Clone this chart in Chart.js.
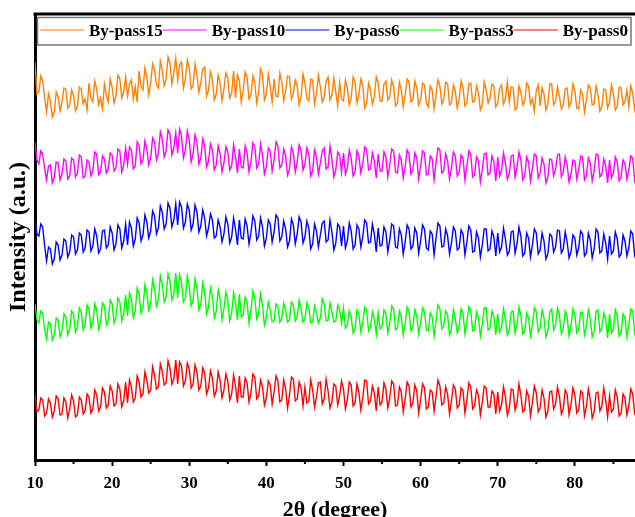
<!DOCTYPE html>
<html>
<head>
<meta charset="UTF-8">
<title>XRD By-pass</title>
<script src="https://cdn.jsdelivr.net/npm/chart.js@4/dist/chart.umd.min.js"></script>
<style>
  html, body { margin: 0; padding: 0; background: #fff; }
</style>
</head>
<body>
<canvas id="xrd" width="635" height="517"></canvas>
<script>
// scan positions, 2theta in degrees
const twoTheta = [
  10,10.25,10.5,10.75,11,11.25,11.5,11.75,12,12.25,12.5,12.75,13,13.25,13.5,13.75,14,14.25,14.5,14.75,
  15,15.25,15.5,15.75,16,16.25,16.5,16.75,17,17.25,17.5,17.75,18,18.25,18.5,18.75,19,19.25,19.5,19.75,
  20,20.25,20.5,20.75,21,21.25,21.5,21.75,22,22.25,22.5,22.75,23,23.25,23.5,23.75,24,24.25,24.5,24.75,
  25,25.25,25.5,25.75,26,26.25,26.5,26.75,27,27.25,27.5,27.75,28,28.25,28.5,28.75,29,29.25,29.5,29.75,
  30,30.25,30.5,30.75,31,31.25,31.5,31.75,32,32.25,32.5,32.75,33,33.25,33.5,33.75,34,34.25,34.5,34.75,
  35,35.25,35.5,35.75,36,36.25,36.5,36.75,37,37.25,37.5,37.75,38,38.25,38.5,38.75,39,39.25,39.5,39.75,
  40,40.25,40.5,40.75,41,41.25,41.5,41.75,42,42.25,42.5,42.75,43,43.25,43.5,43.75,44,44.25,44.5,44.75,
  45,45.25,45.5,45.75,46,46.25,46.5,46.75,47,47.25,47.5,47.75,48,48.25,48.5,48.75,49,49.25,49.5,49.75,
  50,50.25,50.5,50.75,51,51.25,51.5,51.75,52,52.25,52.5,52.75,53,53.25,53.5,53.75,54,54.25,54.5,54.75,
  55,55.25,55.5,55.75,56,56.25,56.5,56.75,57,57.25,57.5,57.75,58,58.25,58.5,58.75,59,59.25,59.5,59.75,
  60,60.25,60.5,60.75,61,61.25,61.5,61.75,62,62.25,62.5,62.75,63,63.25,63.5,63.75,64,64.25,64.5,64.75,
  65,65.25,65.5,65.75,66,66.25,66.5,66.75,67,67.25,67.5,67.75,68,68.25,68.5,68.75,69,69.25,69.5,69.75,
  70,70.25,70.5,70.75,71,71.25,71.5,71.75,72,72.25,72.5,72.75,73,73.25,73.5,73.75,74,74.25,74.5,74.75,
  75,75.25,75.5,75.75,76,76.25,76.5,76.75,77,77.25,77.5,77.75,78,78.25,78.5,78.75,79,79.25,79.5,79.75,
  80,80.25,80.5,80.75,81,81.25,81.5,81.75,82,82.25,82.5,82.75,83,83.25,83.5,83.75,84,84.25,84.5,84.75,
  85,85.25,85.5,85.75,86,86.25,86.5,86.75,87,87.25,87.5,87.75,88
];

// intensities (a.u., curves already stacked)
const pass15 = [
  398,366,368,384,379,362,348,366,359,343,348,368,363,349,358,372,371,352,355,370,
  364,349,354,373,371,356,361,350,377,362,358,379,371,355,362,351,376,365,358,381,
  373,357,364,385,381,362,368,383,364,376,380,361,373,358,389,374,370,392,383,365,
  377,396,390,375,372,399,390,374,381,403,397,376,387,402,380,395,398,372,381,400,
  392,371,374,396,385,368,377,391,393,364,370,388,381,360,366,385,377,359,371,387,
  382,362,367,389,362,385,379,358,370,388,383,361,365,384,377,357,368,391,385,360,
  366,386,374,358,381,364,363,387,378,359,369,384,383,361,366,380,374,355,363,386,
  377,362,359,381,380,356,367,385,373,358,363,379,383,360,365,382,368,354,377,361,
  359,380,372,355,362,383,378,357,365,381,375,352,357,377,370,356,363,383,377,359,
  359,376,379,360,363,380,373,354,357,378,370,353,365,381,378,358,360,379,372,355,
  360,377,375,357,353,374,370,351,365,380,374,356,361,378,376,355,357,375,369,352,
  361,379,372,354,357,376,377,358,359,374,367,350,355,378,370,357,362,376,374,353,
  357,371,375,356,362,378,358,373,372,350,352,374,368,355,359,377,374,356,361,349,
  369,375,354,372,366,350,356,376,376,355,359,373,364,351,355,371,372,353,358,376,
  369,352,351,370,366,348,360,375,372,355,356,374,365,349,353,371,370,352,358,375,
  366,350,354,373,372,355,358,370,353,374,367,351,363
];
const pass10 = [
  318,300,296,309,306,291,280,294,295,277,283,298,297,280,286,301,299,281,284,302,
  300,283,287,305,303,282,284,300,298,284,289,308,306,285,288,304,301,287,291,307,
  305,289,292,311,309,288,295,312,296,313,310,291,294,318,314,296,300,319,311,295,
  302,322,318,300,306,328,321,303,309,330,326,305,312,327,307,331,324,302,310,329,
  320,298,306,325,318,296,302,321,314,293,299,316,310,290,295,314,306,288,297,313,
  308,290,294,315,303,287,311,293,292,314,307,288,298,317,313,292,296,316,305,286,
  293,312,309,289,300,318,314,292,295,311,304,285,291,313,307,288,298,315,310,290,
  296,312,306,284,289,310,303,286,297,309,312,291,293,314,301,283,290,308,305,288,
  307,286,292,310,302,284,288,309,304,287,296,313,311,290,291,307,299,282,306,289,
  289,308,303,283,295,311,309,288,287,305,300,282,293,310,306,286,290,307,302,281,
  294,309,307,285,286,304,301,280,297,312,310,287,289,306,299,281,292,308,304,284,
  288,305,302,280,294,309,306,283,285,303,299,278,291,306,307,285,287,304,298,279,
  303,284,290,307,297,281,286,304,305,283,293,308,300,280,284,303,298,279,292,306,
  304,282,287,302,296,277,283,301,300,284,291,305,306,283,288,303,295,278,285,300,
  299,281,290,304,303,280,284,302,297,279,289,306,305,283,286,301,294,277,300,282,
  287,303,298,279,283,300,296,281,290,304,302,280,289
];
const pass6 = [
  240,226,224,236,233,214,199,213,211,196,201,218,215,200,205,221,219,203,208,225,
  223,206,210,227,225,208,212,230,228,209,214,231,224,207,211,229,230,212,215,233,
  227,210,216,235,231,212,219,236,215,238,232,214,221,242,237,219,225,245,238,222,
  229,249,244,226,232,254,248,231,236,257,252,233,240,256,235,258,253,232,238,256,
  250,230,236,255,248,228,234,250,242,224,232,246,240,222,224,240,233,218,226,243,
  236,217,223,242,231,215,240,222,221,241,234,216,227,244,239,220,224,242,233,214,
  222,240,236,218,228,245,242,219,223,239,231,213,219,241,235,216,226,243,238,217,
  223,239,232,211,216,236,229,213,225,237,239,218,220,240,228,210,217,236,233,214,
  234,212,219,237,229,211,215,235,231,213,223,240,237,217,218,236,226,208,232,214,
  215,233,228,208,220,236,234,213,212,231,225,206,218,235,231,211,214,232,227,207,
  219,235,231,212,210,229,226,205,222,237,234,213,214,231,224,206,217,233,229,210,
  212,230,226,205,218,234,230,208,209,228,222,203,215,231,231,209,211,229,223,204,
  227,208,213,232,221,205,209,228,229,207,216,233,224,204,207,227,222,203,215,231,
  227,206,210,227,219,201,206,226,224,208,213,230,229,207,211,228,218,202,208,225,
  222,205,212,229,226,204,207,227,220,202,211,231,228,207,209,226,217,201,224,206,
  209,228,221,203,206,225,219,204,212,229,226,205,211
];
const pass3 = [
  156,140,137,149,147,130,121,138,136,120,125,142,140,123,129,146,143,125,131,149,
  146,128,133,152,148,130,135,155,151,132,137,156,150,131,138,157,154,135,140,160,
  156,137,143,162,158,139,146,165,144,167,161,142,149,172,166,147,152,175,167,150,
  157,180,172,154,160,184,176,158,163,186,179,160,166,187,162,185,178,158,162,184,
  174,154,159,181,172,150,156,177,168,146,153,172,164,142,149,170,161,140,151,168,
  160,139,147,167,157,140,166,143,145,163,158,137,150,169,162,141,146,166,155,135,
  143,158,150,138,139,156,153,138,142,157,149,138,140,158,155,139,143,160,151,138,
  141,157,152,137,138,154,147,137,142,161,156,139,140,157,148,138,139,155,150,137,
  152,132,135,149,143,127,131,150,146,128,137,153,150,129,133,148,141,126,147,131,
  134,150,146,127,137,154,151,130,132,149,143,125,136,153,149,129,133,150,144,126,
  137,152,148,130,129,147,143,124,139,155,151,131,134,149,145,125,131,150,142,127,
  134,151,147,126,138,153,150,129,130,148,142,124,136,152,152,130,132,149,143,125,
  146,128,133,151,141,125,130,148,149,127,136,153,144,126,128,147,142,124,135,152,
  148,128,132,150,142,123,129,148,151,130,135,152,145,126,131,149,143,124,134,151,
  145,127,130,148,147,125,133,150,141,123,129,149,150,128,132,147,140,122,146,127,
  131,150,144,124,128,146,142,123,135,151,149,127,134
];
const pass0 = [
  66,48,50,62,60,44,47,61,57,43,49,64,61,45,46,62,58,42,51,65,
  59,43,45,63,60,46,49,66,63,47,51,70,65,49,53,72,68,52,55,74,
  69,54,56,76,71,53,59,78,57,80,73,58,62,84,78,63,66,88,80,67,
  70,93,85,71,73,96,89,75,77,99,92,76,81,100,76,98,94,74,79,97,
  91,72,76,95,88,70,74,92,87,66,72,89,82,64,69,88,80,62,70,86,
  79,60,66,85,74,57,84,63,63,82,77,58,67,86,83,61,64,80,73,55,
  62,79,75,56,68,84,79,58,60,80,71,52,65,83,81,59,61,78,72,54,
  73,57,59,80,70,53,63,77,78,56,61,81,69,52,58,76,74,55,64,79,
  71,51,60,78,75,54,57,76,68,50,62,80,79,56,59,74,67,49,73,55,
  58,77,71,52,62,79,76,54,55,73,68,48,61,78,74,53,57,75,69,47,
  60,76,72,51,53,70,68,49,63,80,74,55,57,73,66,46,59,75,71,52,
  55,72,69,47,60,77,73,51,54,70,65,45,58,74,72,53,53,69,66,46,
  68,49,55,73,63,45,52,71,70,50,57,76,65,48,50,69,64,44,58,74,
  67,48,52,70,62,43,49,68,69,51,56,73,64,46,51,70,66,45,55,72,
  65,47,50,69,67,44,53,71,61,42,48,67,68,49,54,72,60,43,64,48,
  51,70,63,44,47,66,62,45,54,71,66,47,52
];

const seriesNames = ['By-pass15', 'By-pass10', 'By-pass6', 'By-pass3', 'By-pass0'];
const seriesValues = [pass15, pass10, pass6, pass3, pass0];
const seriesColors = ['#ff8000', '#ff00ff', '#0000ff', '#00ff00', '#ff0000'];
const xMajorTicks = [10, 20, 30, 40, 50, 60, 70, 80];
const xMinorTicks = [15, 25, 35, 45, 55, 65, 75, 85];

const serif = "'Liberation Serif', 'Times New Roman', serif";

// frame top line, minor ticks and the boxed legend
const framePlugin = {
  id: 'frame',
  afterDraw(chart) {
    const ctx = chart.ctx;
    const area = chart.chartArea;
    const xs = chart.scales.x;
    ctx.save();
    ctx.strokeStyle = '#000';
    ctx.lineWidth = 3;
    ctx.beginPath();
    ctx.moveTo(area.left - 1.5, area.top);
    ctx.lineTo(area.right, area.top);
    ctx.stroke();

    ctx.lineWidth = 2;
    xMinorTicks.forEach(v => {
      const px = xs.getPixelForValue(v);
      ctx.beginPath();
      ctx.moveTo(px, area.bottom);
      ctx.lineTo(px, area.bottom + 4);
      ctx.stroke();
    });

    // legend
    ctx.fillStyle = '#fff';
    ctx.fillRect(37.5, 17.5, 593.5, 27.5);
    ctx.strokeStyle = '#777';
    ctx.lineWidth = 1.5;
    ctx.strokeRect(37.5, 17.5, 593.5, 27.5);
    ctx.font = 'bold 17px ' + serif;
    ctx.textBaseline = 'middle';
    let x = 40;
    chart.data.datasets.forEach(ds => {
      ctx.strokeStyle = ds.borderColor;
      ctx.lineWidth = 1;
      ctx.beginPath();
      ctx.moveTo(x, 30);
      ctx.lineTo(x + 44, 30);
      ctx.stroke();
      ctx.fillStyle = '#000';
      ctx.fillText(ds.label, x + 49, 32);
      x += 49 + ctx.measureText(ds.label).width;
    });
    ctx.restore();
  }
};

new Chart(document.getElementById('xrd'), {
  type: 'line',
  data: {
    datasets: seriesNames.map((name, i) => ({
      label: name,
      data: twoTheta.map((t, j) => ({ x: t, y: seriesValues[i][j] })),
      borderColor: seriesColors[i],
      borderWidth: 1.4,
      pointRadius: 0,
      tension: 0,
      fill: false
    }))
  },
  options: {
    responsive: false,
    animation: false,
    devicePixelRatio: 1,
    layout: { padding: { top: 14, left: 0, right: 0, bottom: 0 } },
    plugins: {
      legend: { display: false },
      tooltip: { enabled: false }
    },
    scales: {
      x: {
        type: 'linear',
        min: 10,
        max: 87.8,
        afterBuildTicks: s => { s.ticks = xMajorTicks.map(v => ({ value: v })); },
        afterFit: s => { s.height = 57; },
        grid: { display: true, drawOnChartArea: false, drawTicks: true, tickLength: 6, tickWidth: 2, tickColor: '#000' },
        border: { display: true, color: '#000', width: 3 },
        ticks: {
          color: '#000',
          padding: 7,
          maxRotation: 0,
          font: { family: serif, size: 17, weight: 'bold' }
        },
        title: {
          display: true,
          text: '2θ (degree)',
          color: '#000',
          padding: { top: 0, bottom: -4 },
          font: { family: serif, size: 22, weight: 'bold', lineHeight: 1 }
        }
      },
      y: {
        min: 0,
        max: 446,
        afterFit: s => { s.width = 35; },
        grid: { display: false },
        border: { display: true, color: '#000', width: 3 },
        ticks: { display: false },
        title: {
          display: true,
          text: 'Intensity (a.u.)',
          color: '#000',
          padding: { top: 7, bottom: 0 },
          font: { family: serif, size: 24, weight: 'bold', lineHeight: 1 }
        }
      }
    }
  },
  plugins: [framePlugin]
});
</script>
</body>
</html>
